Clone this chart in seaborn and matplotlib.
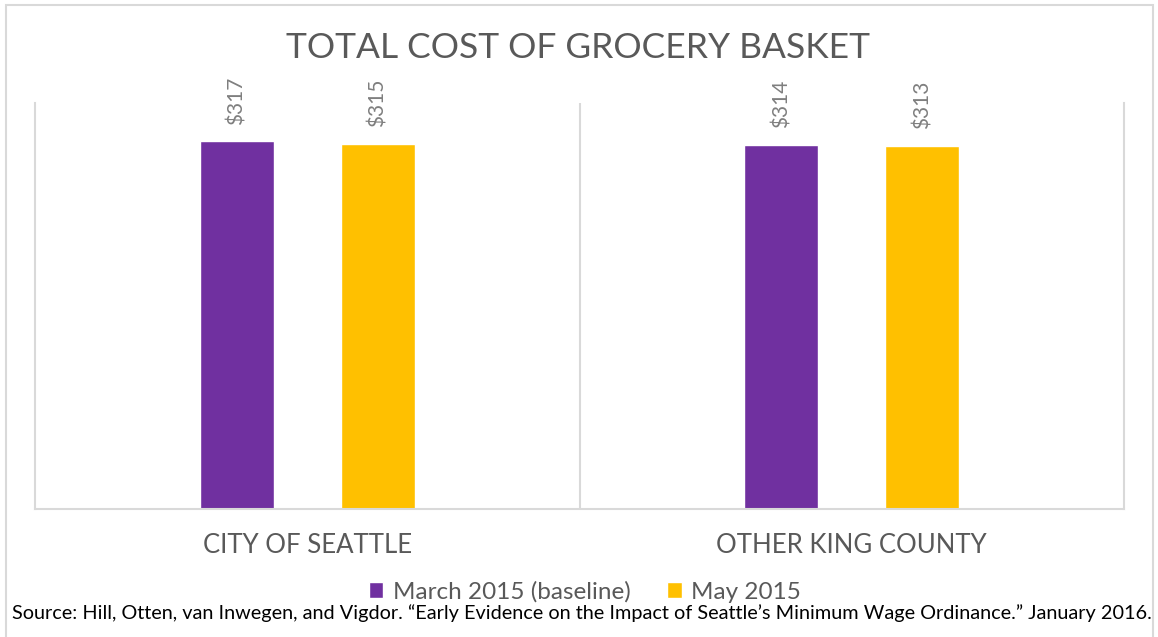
import matplotlib
matplotlib.use("Agg")
import matplotlib.pyplot as plt
import seaborn as sns
import pandas as pd
from matplotlib.patches import Rectangle

# Data
regions = ["CITY OF SEATTLE", "OTHER KING COUNTY"]
periods = ["March 2015 (baseline)", "May 2015"]
march_cost = [317, 314]
may_cost = [315, 313]
colors = ["#7030A0", "#FFC000"]
title = "TOTAL COST OF GROCERY BASKET"
source = ("Source: Hill, Otten, van Inwegen, and Vigdor. \u201cEarly Evidence on the Impact "
          "of Seattle\u2019s Minimum Wage Ordinance.\u201d January 2016.")

df = pd.DataFrame({
    "region": regions * 2,
    "period": [periods[0]] * len(regions) + [periods[1]] * len(regions),
    "cost": march_cost + may_cost,
})

sns.set_theme(style="white")
plt.rcParams["font.family"] = ["Lato", "DejaVu Sans"]

W, H = 1158, 637
fig = plt.figure(figsize=(W / 100, H / 100), dpi=100)
ax = fig.add_axes([35 / W, 128 / H, 1089 / W, 406 / H])

sns.barplot(data=df, x="region", y="cost", hue="period", order=regions,
            hue_order=periods, palette=colors, width=0.517, gap=0.474,
            saturation=1, errorbar=None, ax=ax)

grid_col = "#d9d9d9"
text_col = "#595959"

ax.set_xlim(-0.5, 1.5)
ax.set_ylim(0, 350)
ax.set_yticks([])
ax.set_xlabel("")
ax.set_ylabel("")
ax.set_xticks(range(len(regions)))
ax.set_xticklabels(regions, fontsize=18.5, color=text_col)
ax.tick_params(axis="x", length=0, pad=17)
for side in ["left", "right", "bottom"]:
    ax.spines[side].set_color(grid_col)
    ax.spines[side].set_linewidth(1.5)
ax.spines["top"].set_visible(False)
ax.axvline(0.5, color=grid_col, lw=1.5)

# Value labels above each bar
for cont in ax.containers:
    vals = cont.datavalues
    ax.bar_label(cont, labels=[f"${v:.0f}" for v in vals], rotation=90,
                 padding=12, color="#7f7f7f", fontsize=15)

# Legend below the categories
handles, labels = ax.get_legend_handles_labels()
if ax.legend_:
    ax.legend_.remove()
fig.legend(handles, labels, loc="center", bbox_to_anchor=(585 / W, 1 - 592 / H),
           ncol=2, frameon=False, fontsize=17.5, handlelength=0.6, handleheight=0.6,
           handletextpad=0.4, columnspacing=1.5, labelcolor=text_col)

fig.text(578 / W, 1 - 48 / H, title, ha="center", va="center",
         fontsize=25.5, color=text_col)
fig.text(12 / W, 1 - 613 / H, source, ha="left", va="center",
         fontsize=14.3, color="black")

# Chart-area frame
fig.patches.append(Rectangle((6 / W, -0.05), 1147 / W, 1.05 - 5 / H,
                             transform=fig.transFigure, fill=False,
                             edgecolor=grid_col, lw=1.5, zorder=0))

fig.savefig("out.png", dpi=100)
